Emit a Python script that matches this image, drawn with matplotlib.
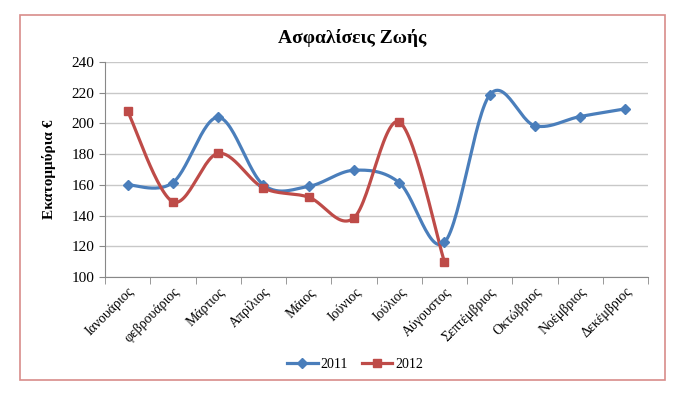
import numpy as np
import matplotlib.pyplot as plt
from matplotlib.patches import Rectangle

months = ['Ιανουάριος', 'φεβρουάριος', 'Μάρτιος', 'Απρίλιος', 'Μάιος', 'Ιούνιος',
          'Ιούλιος', 'Αύγουστος', 'Σεπτέμβριος', 'Οκτώβριος', 'Νοέμβριος', 'Δεκέμβριος']
vals_2011 = [160, 161.5, 204, 160, 159, 169.5, 161.5, 122.5, 218.5, 198.5, 204.5, 209.5]
vals_2012 = [208, 149, 180.5, 158, 152, 138.5, 201, 110]

blue = '#4a7ebb'
red = '#be4b48'

plt.rcParams['font.family'] = ['Liberation Serif', 'DejaVu Serif']


def smooth(xs, ys, n=30):
    # Catmull-Rom style curve through the points (like Excel's smoothed line)
    p = np.column_stack([xs, ys]).astype(float)
    p = np.vstack([p[0], p, p[-1]])
    out = []
    for i in range(1, len(p) - 2):
        p0, p1, p2, p3 = p[i - 1], p[i], p[i + 1], p[i + 2]
        c1 = p1 + (p2 - p0) / 6.
        c2 = p2 - (p3 - p1) / 6.
        t = np.linspace(0, 1, n)[:, None]
        seg = (1 - t) ** 3 * p1 + 3 * (1 - t) ** 2 * t * c1 + 3 * (1 - t) * t ** 2 * c2 + t ** 3 * p2
        out.append(seg)
    out = np.vstack(out)
    return out[:, 0], out[:, 1]


fig = plt.figure(figsize=(6.87, 3.95), dpi=100)
fig.patches.append(Rectangle((20 / 687, 1 - 380 / 395), 645 / 687, 365 / 395,
                             transform=fig.transFigure, fill=False,
                             edgecolor='#d88c8a', linewidth=1.2))

ax = fig.add_axes([105 / 687, 1 - 277 / 395, 543 / 687, 215 / 395])

x1 = np.arange(len(vals_2011))
x2 = np.arange(len(vals_2012))
sx, sy = smooth(x1, vals_2011)
ax.plot(sx, sy, color=blue, lw=2.3, zorder=3)
ax.plot(x1, vals_2011, ls='none', marker='D', ms=5.5, color=blue, zorder=4)
sx, sy = smooth(x2, vals_2012)
ax.plot(sx, sy, color=red, lw=2.3, zorder=3)
ax.plot(x2, vals_2012, ls='none', marker='s', ms=6, color=red, zorder=4)

ax.plot([], [], color=blue, lw=2.3, marker='D', ms=5, label='2011')
ax.plot([], [], color=red, lw=2.3, marker='s', ms=5.5, label='2012')

ax.set_xlim(-0.5, len(months) - 0.5)
ax.set_ylim(100, 240)
ax.set_yticks(range(100, 241, 20))
ax.yaxis.grid(True, color='#c8c8c8', lw=1)
ax.set_axisbelow(True)

ax.set_xticks(np.arange(len(months)))
ax.set_xticklabels(months, rotation=45, ha='right', rotation_mode='anchor', fontsize=10)
ax.set_xticks(np.arange(-0.5, len(months)), minor=True)
ax.tick_params(axis='x', which='major', length=0, pad=6)
ax.tick_params(axis='x', which='minor', length=5, color='#888888')
ax.tick_params(axis='y', length=4, color='#888888', labelsize=11)

for s in ['top', 'right']:
    ax.spines[s].set_visible(False)
ax.spines['left'].set_color('#888888')
ax.spines['bottom'].set_color('#888888')

ax.set_ylabel('Εκατομμύρια €', fontsize=11, fontweight='bold', labelpad=11)
fig.text(352 / 687, 1 - 38 / 395, 'Ασφαλίσεις Ζωής', ha='center', va='center',
         fontsize=14, fontweight='bold')

fig.legend(loc='center', bbox_to_anchor=(355 / 687, 1 - 364 / 395), ncol=2,
           frameon=False, fontsize=10, handlelength=2.2, columnspacing=1.0,
           handletextpad=0.2)

fig.savefig('out.png', dpi=100)
